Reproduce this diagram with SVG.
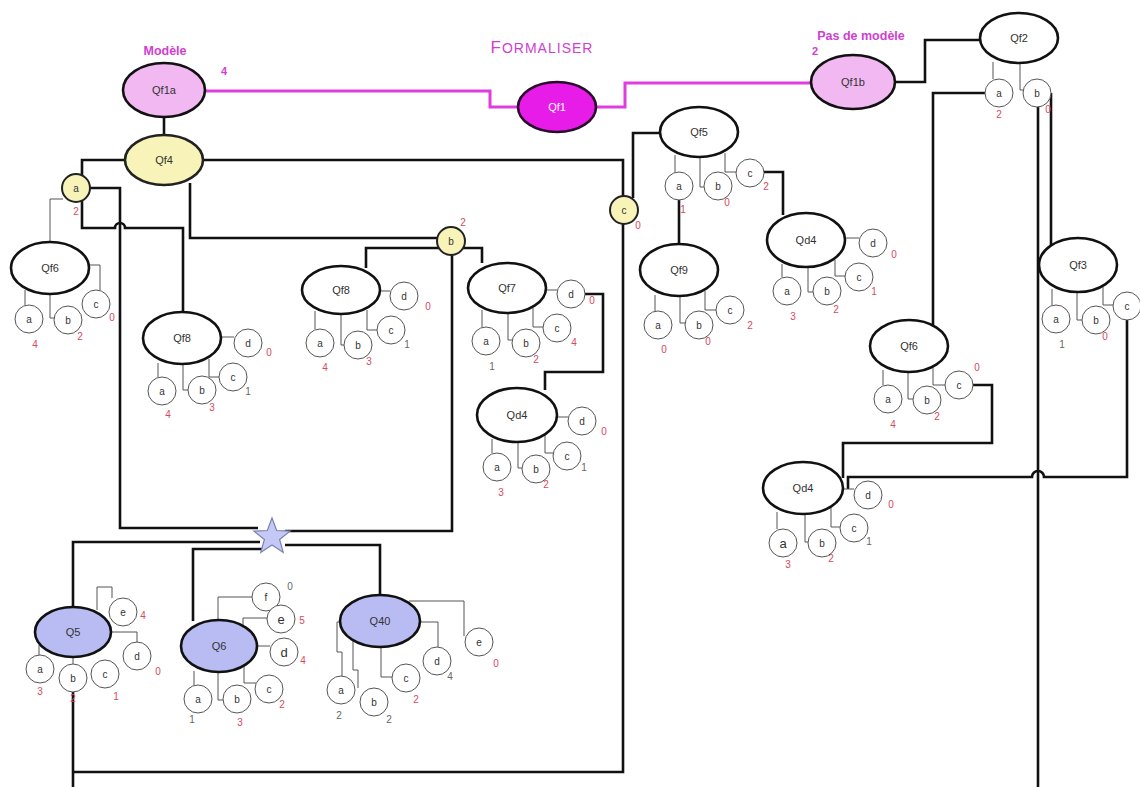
<svg xmlns="http://www.w3.org/2000/svg" width="1140" height="787" viewBox="0 0 1140 787">
<style>
.m{fill:#fff;stroke:#111;stroke-width:2.6}
.pk{fill:#f2b8f2}
.yl{fill:#f7f3b9;stroke:#222;stroke-width:2}
.lv{fill:#b9bcf2}
.sb{fill:#fff;stroke:#555;stroke-width:1}
.tn{fill:none;stroke:#555;stroke-width:1}
.tk{fill:none;stroke:#111;stroke-width:2.6}
.mg{fill:none;stroke:#e03ce0;stroke-width:3}
text{font-family:'Liberation Sans',Arial,sans-serif;text-anchor:middle}
.t{font-size:11px;fill:#333}
.s{font-size:10px;fill:#333}
.big{font-size:13px}
.r{font-size:10px;fill:#d84860}
.g{font-size:10px;fill:#666}
.mt{font-weight:bold;fill:#d040d0;font-size:12.5px}
</style>
<rect width="1140" height="787" fill="#fff"/>
<g id="connectors">
<path class="mg" d="M205 91H490V107H518"/>
<path class="mg" d="M596 107H625V83H811"/>
<path class="tk" d="M164 117V135"/>
<path class="tk" d="M125 160H82V175"/>
<path class="tk" d="M90 188H120V528H258"/>
<path class="tk" d="M82 201V228H115a5 5 0 0 1 10 0H183V312"/>
<path class="tk" d="M190 183V238H437"/>
<path class="tk" d="M366 268V248H482V263"/>
<path class="tk" d="M452 255V531H285"/>
<path class="tk" d="M203 160H623V196"/>
<path class="tk" d="M623 224V772H73"/>
<path class="tk" d="M73 692V787"/>
<path class="tk" d="M660 133H633V198"/>
<path class="tk" d="M679 200V244"/>
<path class="tk" d="M764 172H783V215"/>
<path class="tk" d="M895 82H925V40H980"/>
<path class="tk" d="M985 93H933V325"/>
<path class="tk" d="M1038 106V787"/>
<path class="tk" d="M1051 93V245"/>
<path class="tk" d="M1127 320V477H1044a6 6 0 0 0 -12 0H848V489"/>
<path class="tk" d="M973 385H992V443H843V478"/>
<path class="tk" d="M585 294H603V372H545V390"/>
<path class="tk" d="M260 542H73V607"/>
<path class="tk" d="M262 549H193V621"/>
<path class="tk" d="M285 545H380V595"/>
<path class="tn" d="M63 199H50V242"/>
</g>
<g id="labels">
<text x="165" y="55" class="mt">Modèle</text>
<text x="224" y="75" class="mt" style="font-size:11px">4</text>
<text x="542" y="53" style="fill:#d040d0;font-size:17px;letter-spacing:1px">F<tspan style="font-size:14px">ORMALISER</tspan></text>
<text x="861" y="40" class="mt">Pas de modèle</text>
<text x="815" y="55" class="mt" style="font-size:11px">2</text>
</g>
<g id="Qf1a"><ellipse class="m pk" cx="164" cy="90" rx="41" ry="27"/><text class="t" x="164" y="94">Qf1a</text></g>
<g id="Qf1"><ellipse cx="557" cy="107" rx="39" ry="25" fill="#e81ce8" stroke="#2a0a2a" stroke-width="2.6"/><text class="t" x="557" y="111" style="fill:#fff">Qf1</text></g>
<g id="Qf1b"><ellipse class="m pk" cx="853" cy="82" rx="42" ry="27"/><text class="t" x="853" y="86">Qf1b</text></g>
<g id="Qf2">
<path class="tn" d="M993 62V79M1020 63V90H1023"/>
<ellipse class="m" cx="1019" cy="38" rx="39" ry="25"/><text class="t" x="1019" y="42">Qf2</text>
<circle class="sb" cx="999" cy="93" r="14"/><text class="s" x="999" y="97">a</text>
<circle class="sb" cx="1037" cy="93" r="14"/><text class="s" x="1037" y="97">b</text>
<text class="r" x="999" y="118">2</text><text class="r" x="1048" y="113">0</text>
</g>
<g id="Qf4"><ellipse class="m yl" style="stroke-width:2.6" cx="164" cy="160" rx="39" ry="25"/><text class="t" x="164" y="164">Qf4</text></g>
<g id="a"><circle class="yl" cx="76" cy="188" r="14"/><text class="s" x="76" y="192">a</text><text class="r" x="76" y="215">2</text></g>
<g id="b"><circle class="yl" cx="451" cy="241" r="14"/><text class="s" x="451" y="245">b</text><text class="r" x="463" y="226">2</text></g>
<g id="c"><circle class="yl" cx="624" cy="210" r="14"/><text class="s" x="624" y="214">c</text><text class="r" x="638" y="229">0</text></g>
<g id="Qf6L">
<path class="tn" d="M25 290V305M50 294V318H54M89 265H100V290"/>
<ellipse class="m" cx="50" cy="268" rx="39" ry="26"/><text class="t" x="50" y="272">Qf6</text>
<circle class="sb" cx="29" cy="319" r="14"/><text class="s" x="29" y="323">a</text>
<circle class="sb" cx="68" cy="320" r="14"/><text class="s" x="68" y="324">b</text>
<circle class="sb" cx="96" cy="304" r="14"/><text class="s" x="96" y="308">c</text>
<text class="r" x="35" y="348">4</text><text class="r" x="80" y="340">2</text><text class="r" x="112" y="321">0</text>
</g>
<g id="Qf8L">
<path class="tn" d="M221 337H234M158 363V377M183 364V390H188M209 359V377H219"/>
<ellipse class="m" cx="182" cy="338" rx="39" ry="26"/><text class="t" x="182" y="342">Qf8</text>
<circle class="sb" cx="248" cy="343" r="14"/><text class="s" x="248" y="347">d</text>
<circle class="sb" cx="162" cy="391" r="14"/><text class="s" x="162" y="395">a</text>
<circle class="sb" cx="202" cy="390" r="14"/><text class="s" x="202" y="394">b</text>
<circle class="sb" cx="233" cy="377" r="14"/><text class="s" x="233" y="381">c</text>
<text class="r" x="168" y="418">4</text><text class="r" x="212" y="411">3</text><text class="g" x="248" y="395">1</text><text class="r" x="269" y="356">0</text>
</g>
<g id="Qf8M">
<path class="tn" d="M380 291H390M315 311V329M341 314V345H344M367 310V330H377"/>
<ellipse class="m" cx="341" cy="290" rx="39" ry="24"/><text class="t" x="341" y="294">Qf8</text>
<circle class="sb" cx="404" cy="296" r="14"/><text class="s" x="404" y="300">d</text>
<circle class="sb" cx="320" cy="343" r="14"/><text class="s" x="320" y="347">a</text>
<circle class="sb" cx="358" cy="345" r="14"/><text class="s" x="358" y="349">b</text>
<circle class="sb" cx="391" cy="330" r="14"/><text class="s" x="391" y="334">c</text>
<text class="r" x="325" y="371">4</text><text class="r" x="369" y="365">3</text><text class="g" x="407" y="348">1</text><text class="r" x="428" y="310">0</text>
</g>
<g id="Qf7">
<path class="tn" d="M546 290H557M482 310V327M508 313V340H512M533 308V327H543"/>
<ellipse class="m" cx="507" cy="288" rx="39" ry="25"/><text class="t" x="507" y="292">Qf7</text>
<circle class="sb" cx="571" cy="294" r="14"/><text class="s" x="571" y="298">d</text>
<circle class="sb" cx="486" cy="341" r="14"/><text class="s" x="486" y="345">a</text>
<circle class="sb" cx="526" cy="343" r="14"/><text class="s" x="526" y="347">b</text>
<circle class="sb" cx="557" cy="328" r="14"/><text class="s" x="557" y="332">c</text>
<text class="g" x="492" y="370">1</text><text class="r" x="536" y="363">2</text><text class="r" x="574" y="346">4</text><text class="r" x="592" y="304">0</text>
</g>
<g id="Qd4M">
<path class="tn" d="M557 417H568M492 439V453M518 442V468H522M545 434V453H553"/>
<ellipse class="m" cx="517" cy="415" rx="40" ry="27"/><text class="t" x="517" y="419">Qd4</text>
<circle class="sb" cx="582" cy="421" r="14"/><text class="s" x="582" y="425">d</text>
<circle class="sb" cx="497" cy="467" r="14"/><text class="s" x="497" y="471">a</text>
<circle class="sb" cx="536" cy="469" r="14"/><text class="s" x="536" y="473">b</text>
<circle class="sb" cx="567" cy="456" r="14"/><text class="s" x="567" y="460">c</text>
<text class="r" x="501" y="496">3</text><text class="r" x="546" y="488">2</text><text class="g" x="584" y="471">1</text><text class="r" x="604" y="435">0</text>
</g>
<g id="Qf5">
<path class="tn" d="M675 155V172M700 157V187H704M725 153V172H736"/>
<ellipse class="m" cx="699" cy="132" rx="39" ry="25"/><text class="t" x="699" y="136">Qf5</text>
<circle class="sb" cx="679" cy="186" r="14"/><text class="s" x="679" y="190">a</text>
<circle class="sb" cx="718" cy="186" r="14"/><text class="s" x="718" y="190">b</text>
<circle class="sb" cx="750" cy="173" r="14"/><text class="s" x="750" y="177">c</text>
<text class="r" x="683" y="213">1</text><text class="r" x="727" y="206">0</text><text class="r" x="766" y="190">2</text>
</g>
<g id="Qf9">
<path class="tn" d="M655 295V311M680 296V323H685M705 291V310H716"/>
<ellipse class="m" cx="679" cy="270" rx="39" ry="26"/><text class="t" x="679" y="274">Qf9</text>
<circle class="sb" cx="658" cy="325" r="14"/><text class="s" x="658" y="329">a</text>
<circle class="sb" cx="699" cy="325" r="14"/><text class="s" x="699" y="329">b</text>
<circle class="sb" cx="730" cy="310" r="14"/><text class="s" x="730" y="314">c</text>
<text class="r" x="664" y="353">0</text><text class="r" x="708" y="345">0</text><text class="r" x="750" y="329">2</text>
</g>
<g id="Qd4UR">
<path class="tn" d="M845 238H859M782 264V277M808 267V292H813M835 260V276H845"/>
<ellipse class="m" cx="806" cy="240" rx="39" ry="27"/><text class="t" x="806" y="244">Qd4</text>
<circle class="sb" cx="873" cy="243" r="14"/><text class="s" x="873" y="247">d</text>
<circle class="sb" cx="787" cy="291" r="14"/><text class="s" x="787" y="295">a</text>
<circle class="sb" cx="827" cy="291" r="14"/><text class="s" x="827" y="295">b</text>
<circle class="sb" cx="859" cy="277" r="14"/><text class="s" x="859" y="281">c</text>
<text class="r" x="793" y="320">3</text><text class="r" x="836" y="313">2</text><text class="r" x="874" y="295">1</text><text class="r" x="894" y="258">0</text>
</g>
<g id="Qf6R">
<path class="tn" d="M883 370V385M908 372V399H913M933 367V385H945"/>
<ellipse class="m" cx="909" cy="346" rx="39" ry="26"/><text class="t" x="909" y="350">Qf6</text>
<circle class="sb" cx="888" cy="399" r="14"/><text class="s" x="888" y="403">a</text>
<circle class="sb" cx="927" cy="400" r="14"/><text class="s" x="927" y="404">b</text>
<circle class="sb" cx="959" cy="385" r="14"/><text class="s" x="959" y="389">c</text>
<text class="r" x="893" y="428">4</text><text class="r" x="937" y="420">2</text><text class="r" x="977" y="371">0</text>
</g>
<g id="Qf3">
<path class="tn" d="M1052 289V305M1077 292V320H1082M1103 287V305H1113"/>
<ellipse class="m" cx="1078" cy="265" rx="39" ry="27"/><text class="t" x="1078" y="269">Qf3</text>
<circle class="sb" cx="1056" cy="319" r="14"/><text class="s" x="1056" y="323">a</text>
<circle class="sb" cx="1096" cy="320" r="14"/><text class="s" x="1096" y="324">b</text>
<circle class="sb" cx="1127" cy="306" r="14"/><text class="s" x="1127" y="310">c</text>
<text class="g" x="1062" y="348">1</text><text class="r" x="1105" y="340">0</text>
</g>
<g id="Qd4LR">
<path class="tn" d="M843 489H854M777 512V529M805 514V542H808M831 508V527H840"/>
<ellipse class="m" cx="803" cy="488" rx="40" ry="26"/><text class="t" x="803" y="492">Qd4</text>
<circle class="sb" cx="868" cy="495" r="14"/><text class="s" x="868" y="499">d</text>
<circle class="sb" cx="783" cy="543" r="14"/><text class="s big" x="783" y="548">a</text>
<circle class="sb" cx="822" cy="543" r="14"/><text class="s" x="822" y="547">b</text>
<circle class="sb" cx="854" cy="528" r="14"/><text class="s" x="854" y="532">c</text>
<text class="r" x="788" y="568">3</text><text class="r" x="831" y="562">2</text><text class="g" x="869" y="545">1</text><text class="r" x="891" y="508">0</text>
</g>
<g id="star"><polygon points="272,518 276.7,530.5 290.1,531.1 279.6,539.5 283.2,552.4 272,545 260.8,552.4 264.4,539.5 253.9,531.1 267.3,530.5" fill="#c4c8f4" stroke="#7880b0" stroke-width="1.2"/></g>
<g id="Q5">
<path class="tn" d="M39 645V655M73 657V664M111 632H137V642M97 610V587H112V598"/>
<ellipse class="m lv" cx="73" cy="632" rx="38" ry="25"/><text class="t" x="73" y="636">Q5</text>
<circle class="sb" cx="40" cy="669" r="14"/><text class="s" x="40" y="673">a</text>
<circle class="sb" cx="73" cy="678" r="14"/><text class="s" x="73" y="682">b</text>
<circle class="sb" cx="105" cy="674" r="14"/><text class="s" x="105" y="678">c</text>
<circle class="sb" cx="137" cy="656" r="14"/><text class="s" x="137" y="660">d</text>
<circle class="sb" cx="123" cy="612" r="14"/><text class="s" x="123" y="616">e</text>
<text class="r" x="143" y="619">4</text><text class="r" x="40" y="695">3</text><text class="r" x="73" y="702">2</text><text class="r" x="116" y="700">1</text><text class="r" x="158" y="675">0</text>
</g>
<g id="Q6">
<path class="tn" d="M218 620V597H252M243 626V618H267M257 646H270M244 666V683H256M218 672V700H223M194 671V685"/>
<ellipse class="m lv" cx="219" cy="646" rx="38" ry="26"/><text class="t" x="219" y="650">Q6</text>
<circle class="sb" cx="266" cy="597" r="14"/><text class="s" x="266" y="601">f</text>
<circle class="sb" cx="281" cy="619" r="14"/><text class="s big" x="281" y="624">e</text>
<circle class="sb" cx="284" cy="652" r="14"/><text class="s big" x="284" y="657">d</text>
<circle class="sb" cx="269" cy="689" r="14"/><text class="s" x="269" y="693">c</text>
<circle class="sb" cx="237" cy="699" r="14"/><text class="s" x="237" y="703">b</text>
<circle class="sb" cx="198" cy="699" r="14"/><text class="s" x="198" y="703">a</text>
<text class="g" x="290" y="590">0</text><text class="r" x="302" y="624">5</text><text class="r" x="303" y="664">4</text><text class="r" x="282" y="708">2</text><text class="r" x="240" y="726">3</text><text class="g" x="192" y="723">1</text>
</g>
<g id="Q40">
<path class="tn" d="M340 622H337V652H342V676M353 641V670H358V688M381 647V677H392M420 622H438V647M409 601H464V636"/>
<ellipse class="m lv" cx="380" cy="621" rx="40" ry="26"/><text class="t" x="380" y="625">Q40</text>
<circle class="sb" cx="341" cy="690" r="14"/><text class="s" x="341" y="694">a</text>
<circle class="sb" cx="374" cy="702" r="14"/><text class="s" x="374" y="706">b</text>
<circle class="sb" cx="406" cy="678" r="14"/><text class="s" x="406" y="682">c</text>
<circle class="sb" cx="437" cy="661" r="14"/><text class="s" x="437" y="665">d</text>
<circle class="sb" cx="479" cy="642" r="14"/><text class="s" x="479" y="646">e</text>
<text class="g" x="339" y="719">2</text><text class="g" x="389" y="723">2</text><text class="r" x="416" y="703">2</text><text class="g" x="450" y="680">4</text><text class="r" x="496" y="667">0</text>
</g>
</svg>
